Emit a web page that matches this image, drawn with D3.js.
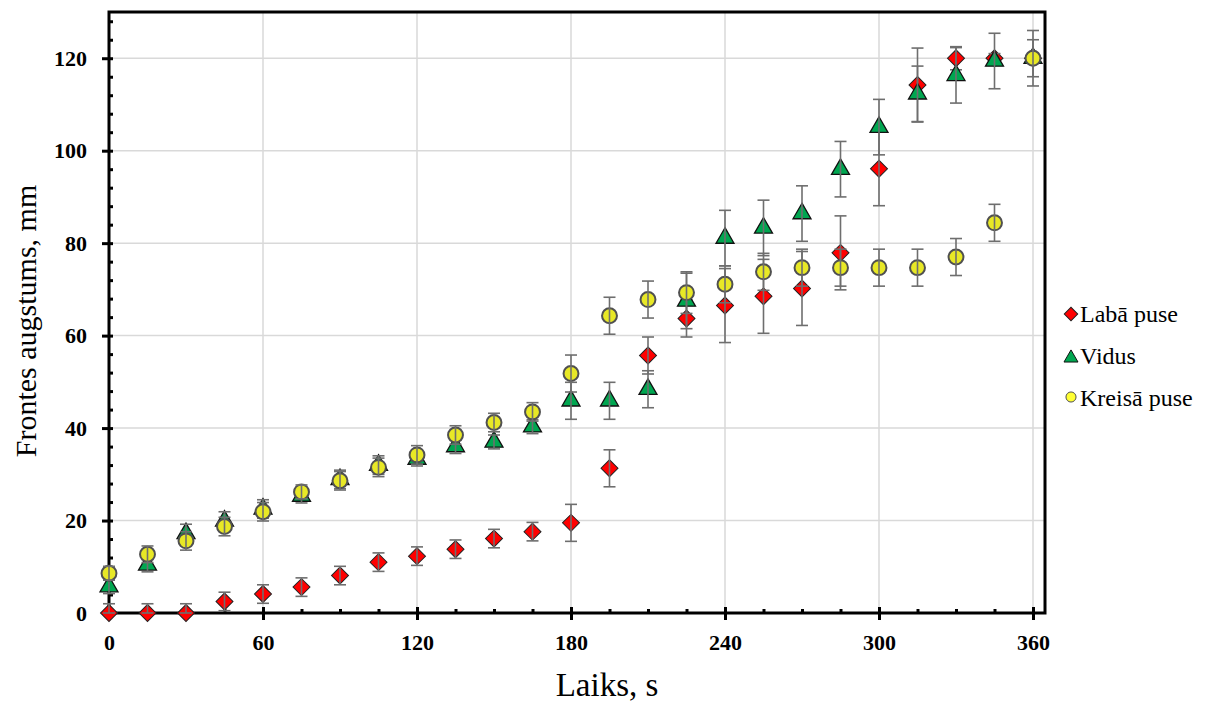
<!DOCTYPE html>
<html>
<head>
<meta charset="utf-8">
<script src="https://cdn.jsdelivr.net/npm/d3@7"></script>
<style>
  body { margin: 0; background: #fff; }
  svg { display: block; }
</style>
</head>
<body>
<svg id="chart" width="1209" height="706"></svg>
<script>
// data
var times = [0, 15, 30, 45, 60, 75, 90, 105, 120, 135, 150, 165, 180, 195, 210, 225, 240, 255, 270, 285, 300, 315, 330, 345, 360];

var labaPuse = [0, 0, 0, 2.5, 4.1, 5.6, 8.1, 11.0, 12.3, 13.8, 16.1, 17.6, 19.5, 31.3, 55.7, 63.7, 66.5, 68.5, 70.2, 77.9, 96.1, 114.2, 120, 120, 120];
var labaPuseErr = [2, 2, 2, 2, 2, 2, 2, 2, 2, 2, 2, 2, 4, 4, 4, 4, 8, 8, 8, 8, 8, 8, 2.5, 1, 1];

var vidus = [5.7, 10.4, 17.2, 19.9, 22.5, 25.3, 28.9, 32.0, 33.3, 36.0, 37.0, 40.3, 45.9, 45.9, 48.4, 67.5, 81.1, 83.3, 86.4, 96.0, 105.1, 112.3, 116.3, 119.4, 120];
var vidusErr = [1.5, 1.5, 2, 2, 2, 1.5, 2, 2, 1.5, 1.5, 1.5, 1.5, 4, 4, 4, 6, 6, 6, 6, 6, 6, 6, 6, 6, 6];

var kreisaPuse = [8.6, 12.7, 15.6, 18.7, 21.9, 26.2, 28.6, 31.5, 34.2, 38.5, 41.2, 43.5, 51.8, 64.3, 67.8, 69.3, 71.1, 73.8, 74.7, 74.7, 74.7, 74.7, 77.0, 84.4, 120];
var kreisaPuseErr = [1.5, 1.8, 2, 2, 2, 1.5, 2, 2, 2, 2, 2, 2, 4, 4, 4, 4.5, 4, 4, 4, 4, 4, 4, 4, 4, 4];

var xTicks = [0, 60, 120, 180, 240, 300, 360];
var yTicks = [0, 20, 40, 60, 80, 100, 120];

var seriesNames = ['Labā puse', 'Vidus', 'Kreisā puse'];
//-------------------

function buildChart() {
  var font = "'Times New Roman', 'Liberation Serif', serif";
  var plotLeft = 109, plotRight = 1045, plotTop = 12, plotBottom = 613;

  var svg = d3.select('#chart');

  var x = d3.scaleLinear().domain([0, 360]).range([plotLeft, 1033]);
  var y = d3.scaleLinear().domain([0, 130]).range([plotBottom, plotTop]);

  var xMinor = d3.range(0, 361, 15);
  var yMinor = d3.range(0, 129, 4);

  //Grid
  var grid = svg.append('g');
  grid.selectAll('.vg')
    .data(xTicks.filter(function(d) { return d > 0; }))
    .enter().append('line')
    .attr('x1', function(d) { return x(d); })
    .attr('x2', function(d) { return x(d); })
    .attr('y1', plotTop)
    .attr('y2', plotBottom)
    .style('stroke', '#d9d9d9')
    .style('stroke-width', 1.5);
  grid.selectAll('.hg')
    .data(yTicks.filter(function(d) { return d > 0; }))
    .enter().append('line')
    .attr('x1', plotLeft)
    .attr('x2', plotRight)
    .attr('y1', function(d) { return y(d); })
    .attr('y2', function(d) { return y(d); })
    .style('stroke', '#d9d9d9')
    .style('stroke-width', 1.5);

  //Frame
  svg.append('rect')
    .attr('x', plotLeft)
    .attr('y', plotTop)
    .attr('width', plotRight - plotLeft)
    .attr('height', plotBottom - plotTop)
    .style('fill', 'none')
    .style('stroke', 'black')
    .style('stroke-width', 3);

  //Axes
  function styleAxis(g) {
    g.select('.domain').remove();
    g.selectAll('line').style('stroke', 'black').style('stroke-width', 3);
    g.selectAll('text')
      .style('font-family', font)
      .style('font-size', '22px')
      .style('font-weight', 'bold')
      .style('fill', 'black');
  }

  svg.append('g')
    .attr('transform', 'translate(' + plotLeft + ',0)')
    .call(d3.axisLeft(y).tickValues(yTicks).tickSize(7).tickPadding(15))
    .call(styleAxis);
  svg.append('g')
    .attr('transform', 'translate(' + plotLeft + ',0)')
    .call(d3.axisRight(y).tickValues(yMinor).tickSize(4).tickFormat(''))
    .call(styleAxis);
  svg.append('g')
    .attr('transform', 'translate(0,' + plotBottom + ')')
    .call(d3.axisBottom(x).tickValues(xTicks).tickSize(7).tickPadding(14))
    .call(styleAxis);
  svg.append('g')
    .attr('transform', 'translate(0,' + plotBottom + ')')
    .call(d3.axisTop(x).tickValues(xMinor).tickSize(4).tickFormat(''))
    .call(styleAxis);
  svg.append('g')
    .attr('transform', 'translate(0,' + plotBottom + ')')
    .call(d3.axisTop(x).tickValues(xTicks).tickSize(6).tickFormat(''))
    .call(styleAxis);

  //Series
  var series = [
    { name: seriesNames[0], values: labaPuse, err: labaPuseErr, shape: d3.symbolSquare, size: 144, rot: 45, fill: '#ff0000', stroke: '#222', sw: 1 },
    { name: seriesNames[1], values: vidus, err: vidusErr, shape: d3.symbolTriangle, size: 140, rot: 0, fill: '#00a650', stroke: '#111', sw: 1.3 },
    { name: seriesNames[2], values: kreisaPuse, err: kreisaPuseErr, shape: d3.symbolCircle, size: 175, rot: 0, fill: '#e8e826', stroke: '#505050', sw: 2 }
  ];

  series.forEach(function(s) {
    var pts = times.map(function(t, i) {
      return { t: t, v: s.values[i], e: s.err[i] };
    });
    var g = svg.append('g');

    g.selectAll('path.m')
      .data(pts)
      .enter().append('path')
      .attr('class', 'm')
      .attr('d', d3.symbol().type(s.shape).size(s.size))
      .attr('transform', function(d) {
        return 'translate(' + x(d.t) + ',' + y(d.v) + ') rotate(' + s.rot + ')';
      })
      .style('fill', s.fill)
      .style('stroke', s.stroke)
      .style('stroke-width', s.sw);

    var eb = g.selectAll('g.eb')
      .data(pts)
      .enter().append('g')
      .attr('class', 'eb')
      .style('stroke', '#6e6e6e')
      .style('stroke-width', 1.6);
    eb.append('line')
      .attr('x1', function(d) { return x(d.t); })
      .attr('x2', function(d) { return x(d.t); })
      .attr('y1', function(d) { return y(d.v + d.e); })
      .attr('y2', function(d) { return y(Math.max(0, d.v - d.e)); });
    eb.append('line')
      .attr('x1', function(d) { return x(d.t) - 6; })
      .attr('x2', function(d) { return x(d.t) + 6; })
      .attr('y1', function(d) { return y(d.v + d.e); })
      .attr('y2', function(d) { return y(d.v + d.e); });
    eb.append('line')
      .attr('x1', function(d) { return x(d.t) - 6; })
      .attr('x2', function(d) { return x(d.t) + 6; })
      .attr('y1', function(d) { return y(Math.max(0, d.v - d.e)); })
      .attr('y2', function(d) { return y(Math.max(0, d.v - d.e)); });
  });

  //Legend
  var legend = svg.append('g');
  series.forEach(function(s, i) {
    var ly = 314 + i * 42;
    var isCircle = s.shape === d3.symbolCircle;
    var isTri = s.shape === d3.symbolTriangle;
    legend.append('path')
      .attr('d', d3.symbol().type(s.shape).size(isCircle ? 80 : (isTri ? 85 : 90)))
      .attr('transform', 'translate(1071,' + (ly + (isCircle ? -1 : (isTri ? 2 : 0))) + ') rotate(' + s.rot + ')')
      .style('fill', isCircle ? '#ffff33' : s.fill)
      .style('stroke', s.stroke)
      .style('stroke-width', 1);
    legend.append('text')
      .attr('x', 1080)
      .attr('y', ly + 8)
      .text(s.name)
      .style('font-family', font)
      .style('font-size', '24px')
      .style('fill', 'black');
  });

  //Axis titles
  svg.append('text')
    .attr('x', (plotLeft + plotRight) / 2 + 30)
    .attr('y', 696)
    .attr('text-anchor', 'middle')
    .text('Laiks, s')
    .style('font-family', font)
    .style('font-size', '33px')
    .style('fill', 'black');

  svg.append('text')
    .attr('transform', 'translate(36,321) rotate(-90)')
    .attr('text-anchor', 'middle')
    .text('Frontes augstums, mm')
    .style('font-family', font)
    .style('font-size', '30px')
    .style('fill', 'black');
}

buildChart();
</script>
</body>
</html>
